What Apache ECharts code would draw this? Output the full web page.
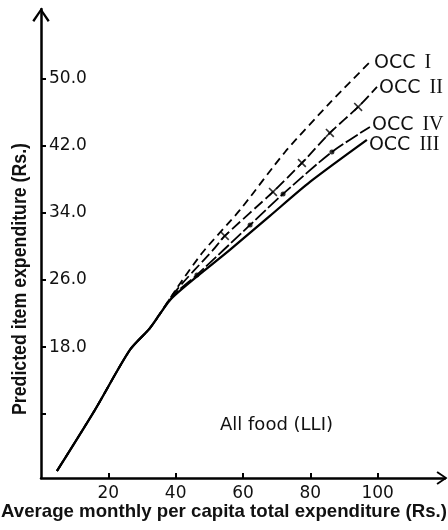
<!DOCTYPE html>
<html>
<head>
<meta charset="utf-8">
<script src="https://cdn.jsdelivr.net/npm/echarts@6/dist/echarts.min.js"></script>
<style>
html,body{margin:0;padding:0;background:#fff;}
#c{width:448px;height:530px;}
</style>
</head>
<body>
<div id="c"></div>
<script>
// ---- data ----
const xTicks = [20, 40, 60, 80, 100];
const yTicks = [10, 18, 26, 34, 42, 50];
const yLabeled = [18, 26, 34, 42, 50];

// common trunk shared by all four curves
const trunkX = [4.75, 16.0, 26.4, 32.4];
const trunkY = [3.24, 10.5, 17.66, 20.29];

const occ1X = [40.4, 48.1, 59.1, 72.5, 85.8, 98.3];
const occ1Y = [25.05, 29.34, 34.35, 41.26, 47.1, 52.23];

const occ2X = [39.8, 51.1, 54.6, 68.9, 77.5, 85.8, 94.2, 99.8];
const occ2Y = [24.58, 29.58, 31.25, 36.5, 39.95, 43.53, 46.63, 49.01];
const occ2MarkX = [54.6, 68.9, 77.5, 85.8, 94.2];
const occ2MarkY = [31.25, 36.5, 39.95, 43.53, 46.63];

const occ4X = [39.5, 46.3, 62.1, 71.9, 86.4, 97.7];
const occ4Y = [24.22, 26.6, 32.56, 36.26, 41.26, 44.24];
const occ4MarkX = [46.3, 62.1, 71.9, 86.4];
const occ4MarkY = [26.6, 32.56, 36.26, 41.26];

const occ3X = [38.9, 56.1, 68.0, 79.9, 96.8];
const occ3Y = [23.86, 29.58, 33.64, 37.69, 42.7];

const seriesNames = ['OCC', 'I', 'II', 'IV', 'III'];
const xTitle = 'Average monthly per capita total expenditure (Rs.)';
const yTitle = 'Predicted item expenditure (Rs.)';
const note = 'All food (LLI)';

// ---- build ----
function pts(xs, ys) { return xs.map((x, i) => [x, ys[i]]); }
function curve(xs, ys) { return pts(trunkX, trunkY).concat(pts(xs, ys)); }

const SANS = "'DejaVu Sans', sans-serif";
const BOLDF = "'Liberation Sans', Arial, sans-serif";
const SERIF = "'Liberation Serif', 'DejaVu Serif', serif";

// condensed look for the axis titles: scale the bold sans horizontally to the reference length
const mctx = document.createElement('canvas').getContext('2d');
function widthOf(text, font) { mctx.font = font; return mctx.measureText(text).width; }
const xTitleFont = 'bold 19px ' + BOLDF;
const yTitleFont = 'bold 20px ' + BOLDF;
const xTitleScale = 446 / widthOf(xTitle, xTitleFont);
const yTitleScale = 272 / widthOf(yTitle, yTitleFont);

const chevron = 'path://M0,13 L9,0 L18,13 L16,14.5 L9,4 L2,14.5 Z';
const cross = 'path://M0,1.3 L1.3,0 L5,3.7 L8.7,0 L10,1.3 L6.3,5 L10,8.7 L8.7,10 L5,6.3 L1.3,10 L0,8.7 L3.7,5 Z';

function endLab(numeral, dy) {
  return {
    show: true,
    distance: 2,
    offset: [0, dy],
    formatter: '{a|' + seriesNames[0] + '}{b|' + numeral + '}',
    rich: {
      a: { fontFamily: SANS, fontSize: 19, color: '#111', fontWeight: 500 },
      b: { fontFamily: SERIF, fontSize: 20, color: '#111', padding: [0, 0, 0, 9] }
    }
  };
}

const lineBase = { type: 'line', showSymbol: false, symbol: 'none', smooth: 0.25, silent: true, z: 3 };

const chart = echarts.init(document.getElementById('c'), null, { renderer: 'canvas' });
chart.setOption({
  animation: false,
  backgroundColor: '#fff',
  grid: { left: 41, right: 3, top: 9, bottom: 52, containLabel: false },
  xAxis: {
    type: 'value', min: 0, max: 120,
    axisLine: { show: true, lineStyle: { color: '#000', width: 2.5 },
      symbol: ['none', chevron], symbolSize: [15, 11], symbolOffset: [0, -3] },
    axisTick: { show: true, inside: true, length: 5, lineStyle: { color: '#000', width: 2 }, customValues: xTicks },
    axisLabel: { show: true, customValues: xTicks, margin: 7, fontSize: 17, color: '#111', fontFamily: SANS },
    splitLine: { show: false }
  },
  yAxis: {
    type: 'value', min: 2.4, max: 58.3,
    axisLine: { show: true, lineStyle: { color: '#000', width: 2.5 },
      symbol: ['none', chevron], symbolSize: [20, 14], symbolOffset: [0, -6] },
    axisTick: { show: true, inside: true, length: 5, lineStyle: { color: '#000', width: 2 }, customValues: yTicks },
    axisLabel: { show: true, inside: true, customValues: yLabeled, margin: 8, fontSize: 17, color: '#111', fontFamily: SANS,
      formatter: v => v.toFixed(1) },
    splitLine: { show: false }
  },
  graphic: [
    { type: 'text', x: 224, y: 512, scaleX: xTitleScale,
      style: { text: xTitle, font: xTitleFont, fill: '#111', align: 'center', verticalAlign: 'middle' } },
    { type: 'text', x: 20, y: 279, rotation: Math.PI / 2, scaleX: yTitleScale,
      style: { text: yTitle, font: yTitleFont, fill: '#111', align: 'center', verticalAlign: 'middle' } },
    { type: 'text', x: 220, y: 425, style: { text: note, font: '18px ' + SANS, fill: '#111', verticalAlign: 'middle' } }
  ],
  series: [
    Object.assign({}, lineBase, { name: 'OCC I', data: curve(occ1X, occ1Y),
      lineStyle: { color: '#000', width: 1.8, type: [8, 5] }, endLabel: endLab('I', 3) }),
    Object.assign({}, lineBase, { name: 'OCC II', data: curve(occ2X, occ2Y),
      lineStyle: { color: '#000', width: 1.8, type: [11, 4] }, endLabel: endLab('II', 1) }),
    Object.assign({}, lineBase, { name: 'OCC IV', data: curve(occ4X, occ4Y),
      lineStyle: { color: '#000', width: 1.8, type: [14, 3] }, endLabel: endLab('IV', -2) }),
    Object.assign({}, lineBase, { name: 'OCC III', data: curve(occ3X, occ3Y),
      lineStyle: { color: '#000', width: 2.3, type: 'solid' }, endLabel: endLab('III', 5) }),
    { type: 'scatter', name: 'OCC II marks', data: pts(occ2MarkX, occ2MarkY), symbol: cross, symbolSize: 9,
      itemStyle: { color: '#000' }, silent: true, z: 4 },
    { type: 'scatter', name: 'OCC IV marks', data: pts(occ4MarkX, occ4MarkY), symbol: 'circle', symbolSize: 5,
      itemStyle: { color: '#000' }, silent: true, z: 4 }
  ]
});
</script>
</body>
</html>
